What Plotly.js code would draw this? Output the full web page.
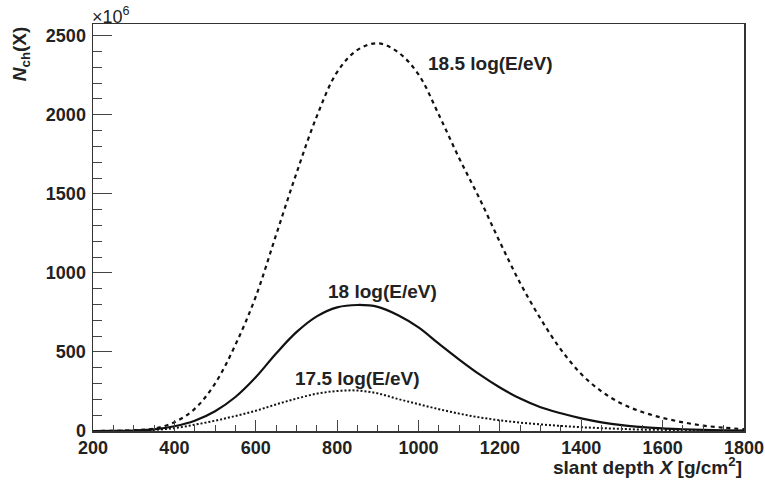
<!DOCTYPE html>
<html>
<head>
<meta charset="utf-8">
<script src="https://cdn.plot.ly/plotly-3.0.1.min.js"></script>
<style>html,body{margin:0;padding:0;background:#fff;}#chart{width:765px;height:489px;}</style>
</head>
<body>
<div id="chart"></div>
<script>
// slant depth X [g/cm^2]
const depth = [200,250,300,350,400,450,500,550,600,650,700,750,800,850,900,950,1000,1050,1100,1150,1200,1250,1300,1350,1400,1450,1500,1550,1600,1650,1700,1750,1800];
// N_ch(X) in units of 1e6
const nch185 = [0,1,5,15,55,140,300,545,850,1240,1630,1990,2270,2410,2452,2395,2255,2000,1725,1470,1195,935,710,515,360,250,172,120,83,55,34,21,12];
const nch18   = [0,1,3,10,30,65,125,215,340,490,625,725,782,797,785,732,655,552,452,358,275,205,150,112,80,55,37,25,16,11,7,4,2];
const nch175  = [0,0.5,2,7,18,40,65,95,128,168,205,236,253,256,238,202,170,138,110,86,68,53,42,32,24,18,13,9,7,5,3,2,1];
const seriesLabels = ["18.5 log(E/eV)", "18 log(E/eV)", "17.5 log(E/eV)"];

const FONT = '"Liberation Sans", Arial, Helvetica, sans-serif';

const traces = [
  {x: depth, y: nch185, mode: 'lines', line: {color: '#111', width: 2.2, dash: '4px,4px', shape: 'spline'}, name: seriesLabels[0]},
  {x: depth, y: nch18,  mode: 'lines', line: {color: '#111', width: 2.2, shape: 'spline'}, name: seriesLabels[1]},
  {x: depth, y: nch175, mode: 'lines', line: {color: '#111', width: 2, dash: '2px,2px', shape: 'spline'}, name: seriesLabels[2]}
];

const axisCommon = {
  showgrid: false, zeroline: false, showline: true, mirror: true,
  linecolor: '#333', linewidth: 1.5,
  ticks: 'inside', tickcolor: '#444', tickwidth: 1,
  tickfont: {family: FONT, size: 18, color: '#222', weight: 'bold'},
  fixedrange: true
};

const layout = {
  width: 765, height: 489,
  margin: {l: 93, r: 21, t: 24, b: 58},
  paper_bgcolor: '#fff', plot_bgcolor: '#fff',
  showlegend: false,
  font: {family: FONT, color: '#222'},
  xaxis: Object.assign({}, axisCommon, {
    range: [200, 1800], dtick: 200, tick0: 200, ticklen: 11,
    minor: {dtick: 50, ticks: 'inside', ticklen: 6, tickcolor: '#444'}
  }),
  yaxis: Object.assign({}, axisCommon, {
    range: [0, 2574], dtick: 500, ticklen: 19, ticklabelstandoff: 2,
    minor: {dtick: 100, ticks: 'inside', ticklen: 9, tickcolor: '#444'}
  }),
  annotations: [
    {x: 1177, y: 2327, xref: 'x', yref: 'y', text: '<b>' + seriesLabels[0] + '</b>', showarrow: false,
     font: {family: FONT, size: 19, color: '#222'}},
    {x: 911, y: 880, xref: 'x', yref: 'y', text: '<b>' + seriesLabels[1] + '</b>', showarrow: false,
     font: {family: FONT, size: 19, color: '#222'}},
    {x: 850, y: 333, xref: 'x', yref: 'y', text: '<b>' + seriesLabels[2] + '</b>', showarrow: false,
     font: {family: FONT, size: 19, color: '#222'}},
    {x: 0, y: 1, xref: 'paper', yref: 'paper', xanchor: 'left', yanchor: 'bottom', xshift: -3, yshift: -5,
     text: '×10<sup>6</sup>', showarrow: false, font: {family: FONT, size: 18, color: '#222'}},
    {x: -0.111, y: 1, xref: 'paper', yref: 'paper', xanchor: 'center', yanchor: 'top', textangle: -90,
     text: '<b><i>N</i><sub>ch</sub>(X)</b>', showarrow: false, font: {family: FONT, size: 19, color: '#222'}},
    {x: 1, y: -0.087, xref: 'paper', yref: 'paper', xanchor: 'right', yanchor: 'middle',
     text: '<b>slant depth <i>X</i> [g/cm<sup>2</sup>]</b>', showarrow: false, font: {family: FONT, size: 19, color: '#222'}}
  ]
};

Plotly.newPlot('chart', traces, layout, {staticPlot: true, displayModeBar: false});
</script>
</body>
</html>
